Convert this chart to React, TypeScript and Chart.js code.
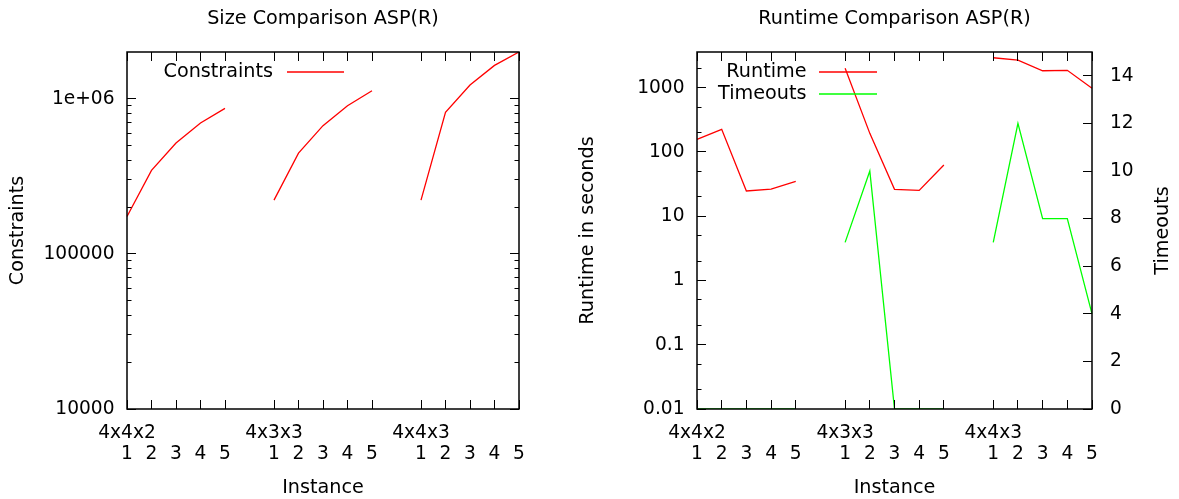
import React, { useEffect, useRef } from "react";
import { Chart, registerables } from "chart.js";

Chart.register(...registerables);

// ---------- data ----------
const groups = ["4x4x2", "4x3x3", "4x4x3"];
const instances = ["1", "2", "3", "4", "5"];

const constraints4x4x2 = [174000, 345000, 518000, 697000, 866000];
const constraints4x3x3 = [222000, 446000, 670000, 901000, 1126000];
const constraints4x4x3 = [222000, 816000, 1226000, 1640000, 2000000];

const runtime4x4x2 = [157, 225, 24.7, 26.5, 34.9];
const runtime4x3x3 = [2004, 195, 26.2, 25.3, 62.7];
const runtime4x4x3 = [2931, 2698, 1839, 1866, 979];

const timeouts4x4x2 = [0, 0, 0, 0, 0];
const timeouts4x3x3 = [7, 10, 0, 0, 0];
const timeouts4x4x3 = [7, 12, 8, 8, 4];

const sizeTicks = [10000, 100000, 1000000];
const sizeTickLabels = ["10000", "100000", "1e+06"];
const sizeMinorFactors = [2, 3, 4, 5, 6, 7, 8, 9];

const runtimeTicks = [0.01, 0.1, 1, 10, 100, 1000];
const runtimeTickLabels = ["0.01", "0.1", "1", "10", "100", "1000"];
const runtimeMinorFactors = [2, 5];

const timeoutTicks = [0, 2, 4, 6, 8, 10, 12, 14];
const timeoutTickLabels = ["0", "2", "4", "6", "8", "10", "12", "14"];

// ---------- helpers ----------
const FONT_FAMILY = "'DejaVu Sans', 'Noto Sans', sans-serif";
const TICK_SIZE = 18.6;
const TEXT_SIZE = 19.2;
const LH = "21.7px";
const tickFont = { family: FONT_FAMILY, size: TICK_SIZE, lineHeight: LH, weight: "normal" as const };
const textFont = { family: FONT_FAMILY, size: TEXT_SIZE, lineHeight: LH, weight: "normal" as const };

function buildLabels(): (string | string[])[] {
  const labels: (string | string[])[] = [];
  groups.forEach((g, gi) => {
    if (gi > 0) labels.push("");
    instances.forEach((n, i) => labels.push(i === 0 ? [g, n] : ["", n]));
  });
  return labels;
}

function joinGroups(arrs: number[][]): (number | null)[] {
  const out: (number | null)[] = [];
  arrs.forEach((a, i) => {
    if (i > 0) out.push(null);
    out.push(...a);
  });
  return out;
}

type YTickCfg = { axis: string; majors: number[]; minorFactors: number[]; sides: ("left" | "right")[] };
type DecorCfg = {
  yTicks: YTickCfg[];
  legend: { textRight: number; lineStart: number; lineEnd: number; rowTop: number; rowStep: number };
  rightTitle?: { axis: string; dx: number };
};

const MAJOR = 9;
const MINOR = 4.5;

function makeDecor(cfg: DecorCfg) {
  return {
    id: "gnuDecor",
    afterDatasetsDraw(chart: any) {
      const { ctx, chartArea: a } = chart;
      const crisp = (v: number) => Math.floor(v) + 0.5;
      ctx.save();
      ctx.strokeStyle = "#000";
      ctx.lineWidth = 1;
      ctx.beginPath();
      // x ticks (bottom + mirrored top)
      const xs = chart.scales.x;
      xs.ticks.forEach((t: any, i: number) => {
        const lab = t.label;
        const text = Array.isArray(lab) ? lab.join("") : lab;
        if (!text) return;
        const px = crisp(xs.getPixelForTick(i));
        ctx.moveTo(px, a.bottom);
        ctx.lineTo(px, a.bottom - MAJOR);
        ctx.moveTo(px, a.top);
        ctx.lineTo(px, a.top + MAJOR);
      });
      // y ticks
      cfg.yTicks.forEach((yc) => {
        const s = chart.scales[yc.axis];
        const marks: [number, number][] = [];
        yc.majors.forEach((v) => marks.push([v, MAJOR]));
        yc.majors.forEach((v) =>
          yc.minorFactors.forEach((f) => {
            const mv = v * f;
            if (mv < s.max) marks.push([mv, MINOR]);
          })
        );
        marks.forEach(([v, len]) => {
          const raw = s.getPixelForValue(v);
          if (raw < a.top - 0.5 || raw > a.bottom + 0.5) return;
          const py = crisp(raw);
          if (yc.sides.includes("left")) {
            ctx.moveTo(a.left, py);
            ctx.lineTo(a.left + len, py);
          }
          if (yc.sides.includes("right")) {
            ctx.moveTo(a.right, py);
            ctx.lineTo(a.right - len, py);
          }
        });
      });
      ctx.stroke();
      // frame
      ctx.lineWidth = 1.5;
      ctx.strokeRect(a.left, a.top, a.right - a.left, a.bottom - a.top);
      // key
      const L = cfg.legend;
      ctx.font = `${TEXT_SIZE}px ${FONT_FAMILY}`;
      ctx.textAlign = "right";
      ctx.textBaseline = "middle";
      chart.data.datasets.forEach((ds: any, i: number) => {
        const y = a.top + L.rowTop + i * L.rowStep;
        ctx.fillStyle = "#000";
        ctx.fillText(ds.label, a.left + L.textRight, y);
        ctx.strokeStyle = ds.borderColor;
        ctx.lineWidth = 1.3;
        ctx.beginPath();
        ctx.moveTo(a.left + L.lineStart, y);
        ctx.lineTo(a.left + L.lineEnd, y);
        ctx.stroke();
      });
      // right axis title, reading bottom-to-top
      if (cfg.rightTitle) {
        const text = chart.options.scales[cfg.rightTitle.axis].title.text;
        ctx.save();
        ctx.translate(a.right + cfg.rightTitle.dx, (a.top + a.bottom) / 2);
        ctx.rotate(-Math.PI / 2);
        ctx.textAlign = "center";
        ctx.textBaseline = "middle";
        ctx.fillStyle = "#000";
        ctx.fillText(text, 0, 0);
        ctx.restore();
      }
      ctx.restore();
    },
  };
}

const titleOpts = (text: string) => ({
  display: true,
  text,
  color: "#000",
  font: textFont,
  padding: { top: 8.5, bottom: 21.8 },
});

const xScale = {
  type: "category" as const,
  offset: false,
  grid: { display: false, drawTicks: false },
  border: { display: false },
  ticks: { autoSkip: false, maxRotation: 0, minRotation: 0, padding: 13, color: "#000", font: tickFont },
  title: { display: true, text: "Instance", color: "#000", font: textFont, padding: { top: 0, bottom: 0 } },
  afterFit: (s: any) => {
    s.height = 90;
  },
};

function leftConfig(): any {
  return {
    type: "line",
    data: {
      labels: buildLabels(),
      datasets: [
        {
          label: "Constraints",
          data: joinGroups([constraints4x4x2, constraints4x3x3, constraints4x4x3]),
          borderColor: "#ff0000",
          backgroundColor: "#ff0000",
          borderWidth: 1.3,
          pointRadius: 0,
          tension: 0,
          spanGaps: false,
          fill: false,
          yAxisID: "y",
        },
      ],
    },
    options: {
      responsive: false,
      animation: false,
      events: [],
      layout: { padding: 0 },
      plugins: {
        legend: { display: false },
        tooltip: { enabled: false },
        title: titleOpts("Size Comparison ASP(R)"),
      },
      scales: {
        x: xScale,
        y: {
          type: "logarithmic",
          position: "left",
          min: 10000,
          max: 2000000,
          grid: { display: false, drawTicks: false },
          border: { display: false },
          ticks: {
            autoSkip: false,
            padding: 12.5,
            color: "#000",
            font: tickFont,
            callback: (v: number) => sizeTickLabels[sizeTicks.indexOf(v)] ?? "",
          },
          afterBuildTicks: (s: any) => {
            s.ticks = sizeTicks.map((v) => ({ value: v }));
          },
          title: { display: true, text: "Constraints", color: "#000", font: textFont, padding: { top: 7.2, bottom: 0 } },
          afterFit: (s: any) => {
            s.width = 127;
          },
        },
        yMirror: {
          type: "logarithmic",
          position: "right",
          display: true,
          min: 10000,
          max: 2000000,
          grid: { display: false, drawTicks: false },
          border: { display: false },
          ticks: { display: false },
          title: { display: false },
          afterFit: (s: any) => {
            s.width = 127;
          },
        },
      },
    },
    plugins: [
      makeDecor({
        yTicks: [{ axis: "y", majors: sizeTicks, minorFactors: sizeMinorFactors, sides: ["left", "right"] }],
        legend: { textRight: 146, lineStart: 160, lineEnd: 217, rowTop: 20, rowStep: 22 },
      }),
    ],
  };
}

function rightConfig(): any {
  return {
    type: "line",
    data: {
      labels: buildLabels(),
      datasets: [
        {
          label: "Runtime",
          data: joinGroups([runtime4x4x2, runtime4x3x3, runtime4x4x3]),
          borderColor: "#ff0000",
          backgroundColor: "#ff0000",
          borderWidth: 1.3,
          pointRadius: 0,
          tension: 0,
          spanGaps: false,
          fill: false,
          yAxisID: "y",
        },
        {
          label: "Timeouts",
          data: joinGroups([timeouts4x4x2, timeouts4x3x3, timeouts4x4x3]),
          borderColor: "#00ff00",
          backgroundColor: "#00ff00",
          borderWidth: 1.3,
          pointRadius: 0,
          tension: 0,
          spanGaps: false,
          fill: false,
          yAxisID: "y2",
        },
      ],
    },
    options: {
      responsive: false,
      animation: false,
      events: [],
      layout: { padding: 0 },
      plugins: {
        legend: { display: false },
        tooltip: { enabled: false },
        title: titleOpts("Runtime Comparison ASP(R)"),
      },
      scales: {
        x: xScale,
        y: {
          type: "logarithmic",
          position: "left",
          min: 0.01,
          max: 3600,
          grid: { display: false, drawTicks: false },
          border: { display: false },
          ticks: {
            autoSkip: false,
            padding: 12.5,
            color: "#000",
            font: tickFont,
            callback: (v: number) => runtimeTickLabels[runtimeTicks.indexOf(v)] ?? "",
          },
          afterBuildTicks: (s: any) => {
            s.ticks = runtimeTicks.map((v) => ({ value: v }));
          },
          title: {
            display: true,
            text: "Runtime in seconds",
            color: "#000",
            font: textFont,
            padding: { top: 6.85, bottom: 0 },
          },
          afterFit: (s: any) => {
            s.width = 127;
          },
        },
        y2: {
          type: "linear",
          position: "right",
          min: 0,
          max: 15,
          grid: { display: false, drawTicks: false },
          border: { display: false },
          ticks: {
            autoSkip: false,
            padding: 18,
            color: "#000",
            font: tickFont,
            callback: (v: number) => timeoutTickLabels[timeoutTicks.indexOf(v)] ?? "",
          },
          afterBuildTicks: (s: any) => {
            s.ticks = timeoutTicks.map((v) => ({ value: v }));
          },
          title: { display: false, text: "Timeouts" },
          afterFit: (s: any) => {
            s.width = 127;
          },
        },
      },
    },
    plugins: [
      makeDecor({
        yTicks: [
          { axis: "y", majors: runtimeTicks, minorFactors: runtimeMinorFactors, sides: ["left"] },
          { axis: "y2", majors: timeoutTicks, minorFactors: [], sides: ["right"] },
        ],
        legend: { textRight: 109.5, lineStart: 122, lineEnd: 180, rowTop: 20, rowStep: 22 },
        rightTitle: { axis: "y2", dx: 71.4 },
      }),
    ],
  };
}

export default function App() {
  const leftRef = useRef<HTMLCanvasElement>(null);
  const rightRef = useRef<HTMLCanvasElement>(null);

  useEffect(() => {
    const c1 = new Chart(leftRef.current as HTMLCanvasElement, leftConfig());
    const c2 = new Chart(rightRef.current as HTMLCanvasElement, rightConfig());
    return () => {
      c1.destroy();
      c2.destroy();
    };
  }, []);

  return (
    <div
      style={{
        position: "absolute",
        left: 0,
        top: 0,
        width: 1179,
        height: 499,
        overflow: "hidden",
        background: "#fff",
      }}
    >
      <canvas
        ref={leftRef}
        width={646}
        height={499}
        style={{ position: "absolute", left: 0, top: 0, width: 646, height: 499 }}
      />
      <canvas
        ref={rightRef}
        width={649}
        height={499}
        style={{ position: "absolute", left: 570, top: 0, width: 649, height: 499 }}
      />
    </div>
  );
}
